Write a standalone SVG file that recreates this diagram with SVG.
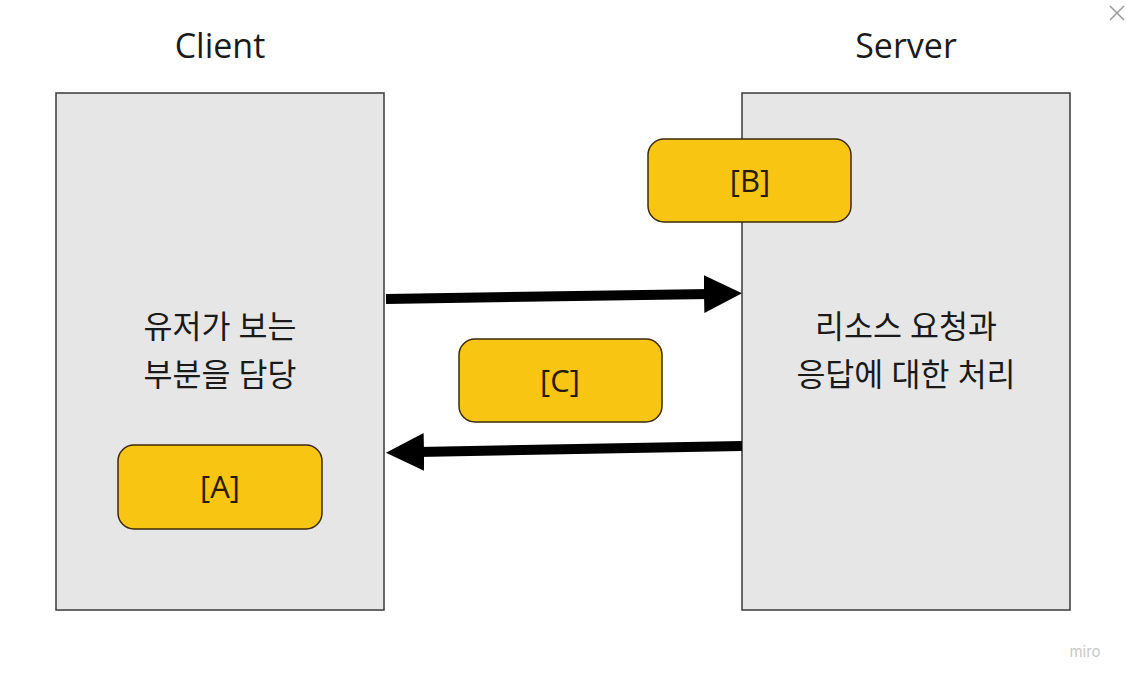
<svg xmlns="http://www.w3.org/2000/svg" width="1126" height="683" viewBox="0 0 1126 683">
<style>
.panel{fill:#e6e6e6;stroke:#3a3a3a;stroke-width:1.5}
.note{fill:#f8c512;stroke:#3a2a0a;stroke-width:1.5}
.t{font-family:"Open Sans","Noto Sans CJK KR",sans-serif;fill:#1a1a1a;text-anchor:middle}
.title{font-size:34px}
.body{font-size:31.5px}
.lbl{font-size:31px;fill:#2a1a05}
.conn{fill:none;stroke:#000;stroke-width:10}
</style>
<defs>
<marker id="ah" markerUnits="userSpaceOnUse" markerWidth="40" markerHeight="40" refX="6" refY="19" orient="auto">
<path d="M0,0 L38,19 L0,38 z" fill="#000"/>
</marker>
</defs>
<rect width="1126" height="683" fill="#ffffff"/>
<g id="client">
<rect class="panel" x="56" y="93" width="328" height="517"/>
<text class="t title" x="220" y="58">Client</text>
<text class="t body" x="220" y="338">유저가 보는</text>
<text class="t body" x="220" y="386">부분을 담당</text>
</g>
<g id="server">
<rect class="panel" x="742" y="93" width="328" height="517"/>
<text class="t title" x="906" y="58">Server</text>
<text class="t body" x="906" y="338">리소스 요청과</text>
<text class="t body" x="906" y="386">응답에 대한 처리</text>
</g>
<g id="nodeA">
<rect class="note" x="118" y="445" width="204" height="84" rx="16"/>
<text class="t lbl" x="220" y="498">[A]</text>
</g>
<g id="nodeB">
<rect class="note" x="648" y="139" width="203" height="83" rx="16"/>
<text class="t lbl" x="750" y="192">[B]</text>
</g>
<g id="nodeC">
<rect class="note" x="459" y="339" width="203" height="83" rx="16"/>
<text class="t lbl" x="560" y="392">[C]</text>
</g>
<g id="connectors">
<path class="conn" d="M386,299 Q560,297 710,294" marker-end="url(#ah)"/>
<path class="conn" d="M742,446 Q560,449 418,452" marker-end="url(#ah)"/>
</g>
<g id="ui">
<path d="M1110,6 L1124,20 M1124,6 L1110,20" stroke="#999" stroke-width="1.5" fill="none"/>
<text x="1085" y="657" font-family="Inter,'Open Sans',sans-serif" font-size="15" fill="#c8c8c8" text-anchor="middle">miro</text>
</g>
</svg>
